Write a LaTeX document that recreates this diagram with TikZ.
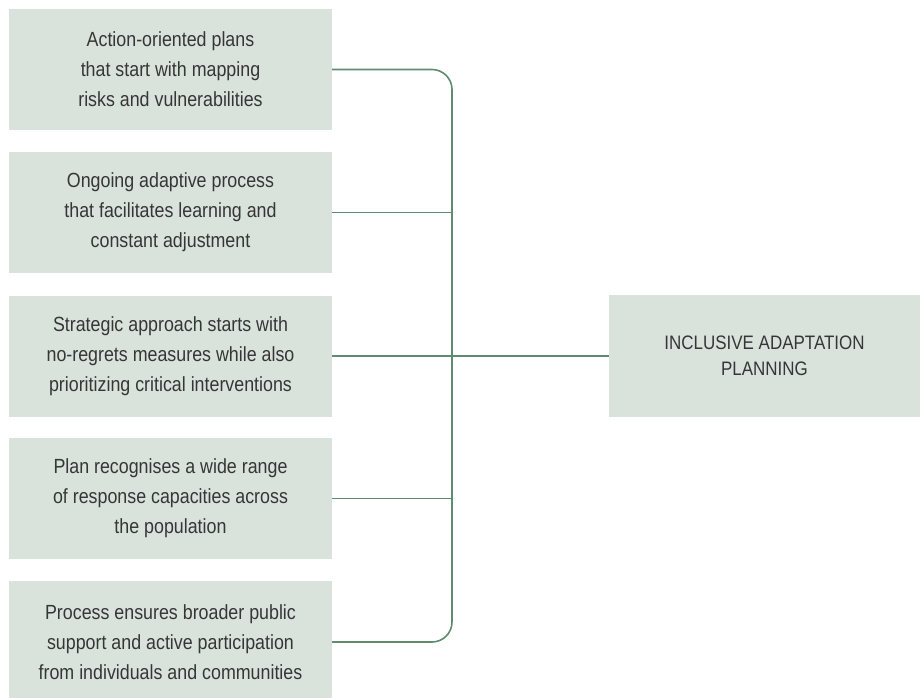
\documentclass[tikz,border=0pt]{standalone}
\usepackage{fontspec}
\setmainfont{Liberation Sans}[FakeStretch=0.87]
\definecolor{boxfill}{HTML}{D9E3DC}
\definecolor{linegreen}{HTML}{5F8B6E}
\definecolor{txt}{HTML}{363636}
\begin{document}
\begin{tikzpicture}[x=1pt,y=-1pt,
  leftbox/.style={fill=boxfill, draw=none, minimum width=323pt, minimum height=121pt,
    inner sep=0pt, text=txt, align=center, font=\fontsize{20.5}{30}\selectfont},
  rightbox/.style={fill=boxfill, draw=none, minimum width=311pt, minimum height=122pt,
    inner sep=0pt, text=txt, align=center, font=\fontsize{19.5}{26}\selectfont},
  conn/.style={draw=linegreen, line width=1.6pt}]
\useasboundingbox (0,0) rectangle (920,697);
\clip (0,0) rectangle (920,697);
\node[leftbox] (b1) at (170.5,69.5) {Action-oriented plans\\that start with mapping\\risks and vulnerabilities};
\node[leftbox] (b2) at (170.5,212.5) {Ongoing adaptive process\\that facilitates learning and\\constant adjustment};
\node[leftbox] (b3) at (170.5,356) {Strategic approach starts with\\no-regrets measures while also\\prioritizing critical interventions};
\node[leftbox] (b4) at (170.5,498.5) {Plan recognises a wide range\\of response capacities across\\the population};
\node[leftbox, minimum height=122pt] (b5) at (170.5,642) {Process ensures broader public\\support and active participation\\from individuals and communities};
\node[rightbox] (r) at (764.5,356) {INCLUSIVE ADAPTATION\\PLANNING};
\coordinate (top) at (452,69.5);
\coordinate (bot) at (452,642);
\draw[conn, rounded corners=20pt] (b1.east) -- (top) -- (bot) -- (b5.east);
\draw[conn] (b2.east) -- (b2.east -| top);
\draw[conn] (b3.east) -- (r.west);
\draw[conn] (b4.east) -- (b4.east -| top);
\end{tikzpicture}
\end{document}
